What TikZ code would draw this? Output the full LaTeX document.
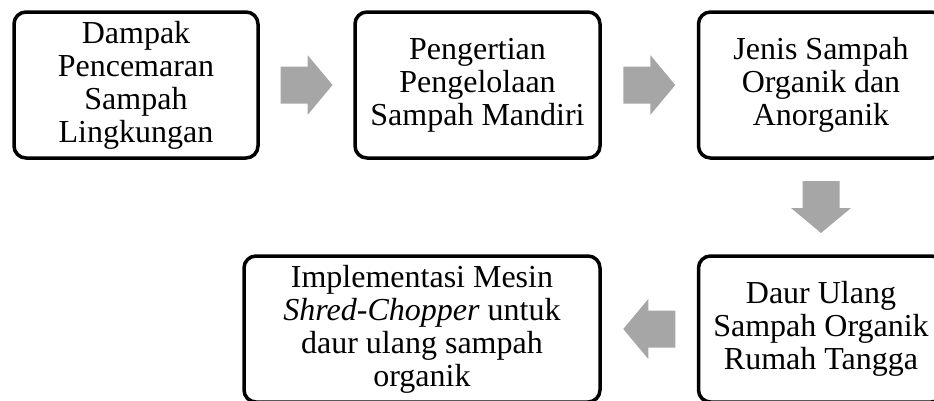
\documentclass[tikz,border=0pt]{standalone}
\usepackage{fontspec}
\setmainfont{Liberation Serif}
\usepackage{tikz}
\usetikzlibrary{calc}
\definecolor{arrowgray}{HTML}{A6A6A6}
\tikzset{
  topic/.style={draw,line width=3.5pt,rounded corners=12pt,align=center,
    minimum height=146pt,inner sep=0pt,font=\fontsize{32}{33}\selectfont},
}
% block arrow centred at #1, turned by #2
\newcommand{\grayarrow}[2]{
\fill[arrowgray,shift={#1},rotate=#2] (-26,-18.5) -- (1,-18.5) -- (1,-30) -- (26,0)
  -- (1,30) -- (1,18.5) -- (-26,18.5) -- cycle;
}
\begin{document}
\begin{tikzpicture}[x=1pt,y=1pt]
\clip (0,0) rectangle (934,-400);
\node[topic,minimum width=244pt] (dampak) at (136,-85) {Dampak\\Pencemaran\\Sampah\\Lingkungan};
\node[topic,minimum width=245pt] (pengertian) at (477.5,-85) {Pengertian\\Pengelolaan\\Sampah Mandiri};
\node[topic,minimum width=245pt] (jenis) at (821,-85) {Jenis Sampah\\Organik dan\\Anorganik};
\node[topic,minimum width=245pt] (daur) at (821,-329) {Daur Ulang\\Sampah Organik\\Rumah Tangga};
\node[topic,minimum width=356pt] (mesin) at (422,-329) {Implementasi Mesin\\\textit{Shred-Chopper} untuk\\daur ulang sampah\\organik};
\grayarrow{($(dampak.east)!0.5!(pengertian.west)$)}{0}
\grayarrow{($(pengertian.east)!0.5!(jenis.west)$)}{0}
\grayarrow{($(jenis.south)!0.5!(daur.north)$)}{-90}
\grayarrow{($(daur.west)!0.5!(mesin.east)$)}{180}
\end{tikzpicture}
\end{document}
